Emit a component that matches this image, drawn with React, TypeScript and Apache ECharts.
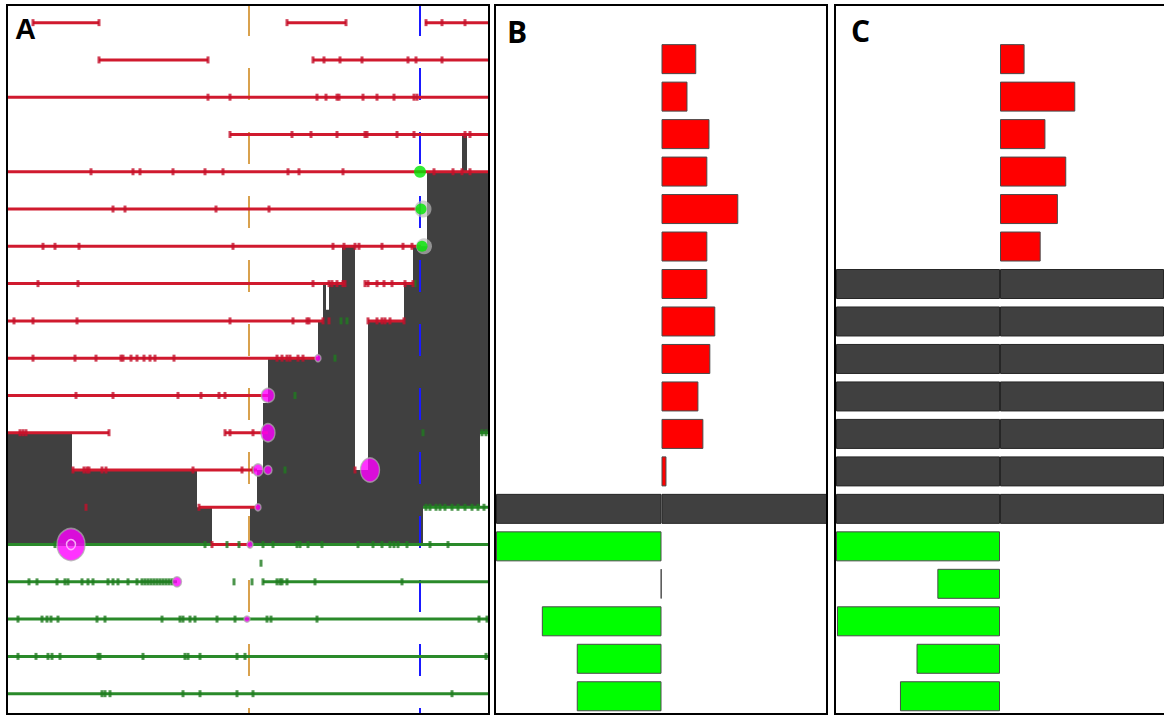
import React, { useEffect, useRef } from "react";
import * as echarts from "echarts";

// ---------- Panel A: per-row tracks (row index 0 = top) ----------
const ROWS = 19;

// [row, start, end]
const gainSegments: number[][] = [
  [0, 33, 99], [0, 287, 346], [0, 425, 488],
  [1, 99, 208], [1, 313, 488],
  [2, 8, 488],
  [3, 230, 488],
  [4, 8, 488],
  [5, 8, 421],
  [6, 8, 421],
  [7, 8, 345], [7, 365, 413],
  [8, 8, 323], [8, 368, 404],
  [9, 8, 318],
  [10, 8, 268],
  [11, 8, 109], [11, 225, 268],
  [12, 72, 257],
  [13, 199, 258],
  [14, 212, 250],
];

const lossSegments: number[][] = [
  [11, 480, 488],
  [13, 423, 488],
  [14, 8, 488],
  [15, 8, 177], [15, 263, 488],
  [16, 8, 488],
  [17, 8, 488],
  [18, 8, 488],
];

const gainTicksByRow: number[][] = [
  [33, 99, 287, 346, 426, 442, 465],
  [99, 208, 313, 324, 340, 362, 408, 416, 442],
  [208, 230, 317, 326, 337, 339, 363, 377, 394, 414, 417],
  [230, 292, 311, 337, 365, 367, 397, 414, 465, 470],
  [91, 133, 140, 173, 205, 223, 288, 299, 343, 434, 453, 462, 470],
  [113, 125, 216, 269],
  [43, 55, 79, 233, 333, 344, 355, 359, 382, 403, 412],
  [38, 78, 313, 329, 332, 337, 343, 345, 365, 368, 377, 384, 392, 405, 413],
  [14, 33, 77, 230, 293, 307, 309, 323, 329, 368, 377, 382, 385, 390, 404],
  [33, 75, 96, 121, 123, 131, 137, 144, 150, 155, 174, 277, 282, 287, 290, 298, 303],
  [76, 113, 178, 201, 219, 225],
  [20, 23, 26, 109, 225, 230, 253],
  [73, 84, 87, 89, 102, 106, 193, 242, 253, 355],
  [86, 199],
  [212],
  [], [], [], [],
];

const lossTicksByRow: number[][] = [
  [], [], [], [], [], [], [],
  [415],
  [341, 347],
  [335],
  [295],
  [423, 482, 486],
  [285],
  [426, 430, 436, 440, 445, 452, 458, 465, 472, 478, 484],
  [55, 205, 227, 239, 263, 273, 297, 300, 308, 322, 358, 373, 382, 390, 394, 398, 407, 430, 448],
  [29, 37, 57, 65, 68, 82, 88, 93, 108, 113, 118, 128, 137, 142, 145, 148, 151, 154, 157, 160, 163, 166, 169, 172, 234, 252, 263, 277, 280, 282, 287, 315, 402],
  [18, 42, 47, 51, 58, 97, 105, 162, 180, 183, 190, 195, 217, 235, 267, 271, 317, 479, 487],
  [18, 36, 48, 52, 60, 98, 100, 143, 185, 188, 200, 237, 245, 486],
  [102, 105, 110, 183, 200, 237, 253, 452],
];

// isolated marks lying between rows: [rowPosition, x]
const strayLossTicks: number[][] = [[14.5, 261]];

// magenta events: [row, x, width, height]
const eventMarks: number[][] = [
  [9, 318, 6, 7],
  [10, 268, 13, 14],
  [11, 268, 14, 18],
  [12, 258, 10, 12],
  [12, 268, 8, 9],
  [12, 370, 19, 24],
  [13, 258, 6, 7],
  [14, 71, 28, 32],
  [14, 250, 6, 7],
  [15, 177, 9, 10],
  [16, 247, 6, 6],
];

// green breakpoints: [row, x, size, haloSize]
const breakpointMarks: number[][] = [
  [4, 420, 12, 0],
  [5, 421, 11, 17],
  [6, 422, 11, 16],
];

// shaded coverage: [start, end, topRow, bottomRow]
const darkColumns: number[][] = [
  [8, 72, 11, 14],
  [72, 197, 12, 14],
  [197, 212, 13, 14],
  [250, 257, 13, 14],
  [257, 263, 12, 14],
  [263, 268, 10.2, 14],
  [268, 318, 9, 14],
  [318, 323, 8, 14],
  [323, 326, 7, 14],
  [326, 329, 7.7, 14],
  [329, 342, 7, 14],
  [342, 355, 6, 14],
  [355, 368, 12, 14],
  [368, 404, 8, 14],
  [404, 413, 7, 14],
  [413, 423, 6, 14],
  [423, 427, 6, 13],
  [427, 462, 4, 13],
  [462, 467, 3, 13],
  [467, 480, 4, 13],
  [480, 488, 4, 11],
];

// reference positions (dashed guides)
const guideOrange = 249;
const guideBlue = 420;

// ---------- Panels B and C: per-row bars ----------
const barRows = Array.from({ length: 18 }, (_, i) => `r${i + 1}`);

const bGain: (number | string)[] = [21, 15.7, 29, 27.7, 46.4, 27.7, 27.7, 32.5, 29.5, 22.3, 25.3, 3, "-", "-", "-", "-", "-", "-"];
const bLoss: (number | string)[] = ["-", "-", "-", "-", "-", "-", "-", "-", "-", "-", "-", "-", "-", -100, -0.4, -72.3, -51.2, -51.2];
const bFull: boolean[] = barRows.map((_, i) => i === 12);

const cGain: (number | string)[] = [15, 45.9, 27.7, 40.4, 35.3, 24.8, "-", "-", "-", "-", "-", "-", "-", "-", "-", "-", "-", "-"];
const cLoss: (number | string)[] = ["-", "-", "-", "-", "-", "-", "-", "-", "-", "-", "-", "-", "-", -100, -38.2, -99.4, -50.9, -61];
const cFull: boolean[] = barRows.map((_, i) => i >= 6 && i <= 12);

const RED_LINE = "#d01a2e";
const GREEN_LINE = "#2a8a2a";
const DARK = "#404040";

const rowY = (r: number) => r + 0.5;

function darkRuns(cols: number[][]) {
  const runs: number[][][] = [];
  cols.forEach((c) => {
    const last = runs[runs.length - 1];
    if (last && last[last.length - 1][1] === c[0]) last.push(c);
    else runs.push([c]);
  });
  return runs;
}

function segmentSeries(segs: number[][], color: string, z: number) {
  return {
    type: "custom",
    xAxisIndex: 0,
    yAxisIndex: 0,
    silent: true,
    z,
    data: segs.map(([r, a, b]) => [a, b, rowY(r)]),
    encode: { x: [0, 1], y: 2 },
    renderItem: (_p: any, api: any) => {
      const p0 = api.coord([api.value(0), api.value(2)]);
      const p1 = api.coord([api.value(1), api.value(2)]);
      return {
        type: "line",
        shape: { x1: p0[0], y1: p0[1], x2: p1[0], y2: p1[1] },
        style: { stroke: color, lineWidth: 3 },
      };
    },
  };
}

function tickSeries(byRow: number[][], extra: number[][], color: string, z: number) {
  const data: number[][] = [];
  byRow.forEach((xs, r) => xs.forEach((x) => data.push([x, rowY(r)])));
  extra.forEach(([r, x]) => data.push([x, rowY(r)]));
  return {
    type: "scatter",
    xAxisIndex: 0,
    yAxisIndex: 0,
    silent: true,
    z,
    symbol: "rect",
    symbolSize: [3, 7],
    itemStyle: { color },
    data,
  };
}

function guideSeries(x: number, color: string) {
  return {
    type: "line",
    xAxisIndex: 0,
    yAxisIndex: 0,
    silent: true,
    z: 2,
    symbol: "none",
    data: [
      [x, 0],
      [x, 19.045],
    ],
    lineStyle: { color, width: 2, type: [32, 32] },
  };
}

function barSeries(idx: number, data: (number | string)[], color: string, border: string) {
  return {
    type: "bar",
    xAxisIndex: idx,
    yAxisIndex: idx,
    silent: true,
    barWidth: 30,
    barGap: "-100%",
    data,
    itemStyle: { color, borderColor: border, borderWidth: 1 },
  };
}

function panelBars(idx: number, gain: (number | string)[], loss: (number | string)[], full: boolean[]) {
  return [
    barSeries(idx, full.map((f) => (f ? 100 : "-")), DARK, "#262626"),
    barSeries(idx, full.map((f) => (f ? -100 : "-")), DARK, "#262626"),
    barSeries(idx, gain, "#ff0000", "#4a4a4a"),
    barSeries(idx, loss, "#00ff00", "#4a4a4a"),
  ];
}

export default function App() {
  const ref = useRef<HTMLDivElement>(null);

  useEffect(() => {
    if (!ref.current) return;
    const chart = echarts.init(ref.current, null, { renderer: "svg" });
    const runs = darkRuns(darkColumns);

    const option: any = {
      animation: false,
      backgroundColor: "#ffffff",
      grid: [
        { left: 8, top: 4, width: 480, height: 710 },
        { left: 496, top: 40.4, width: 331, height: 678.6 },
        { left: 836, top: 40.4, width: 330, height: 678.6 },
      ],
      xAxis: [
        { type: "value", gridIndex: 0, min: 8, max: 488, show: false },
        { type: "value", gridIndex: 1, min: -100, max: 100, show: false },
        { type: "value", gridIndex: 2, min: -100, max: 100, show: false },
      ],
      yAxis: [
        { type: "value", gridIndex: 0, min: 0, max: 19.045, inverse: true, show: false },
        { type: "category", gridIndex: 1, data: barRows, inverse: true, show: false },
        { type: "category", gridIndex: 2, data: barRows, inverse: true, show: false },
      ],
      series: [
        {
          type: "custom",
          xAxisIndex: 0,
          yAxisIndex: 0,
          silent: true,
          z: 1,
          data: runs.map((r) => [r[0][0], rowY(r[0][2])]),
          renderItem: (params: any, api: any) => {
            const run = runs[params.dataIndex];
            const pts: number[][] = [];
            run.forEach(([a, b, top]) => {
              pts.push(api.coord([a, rowY(top)]));
              pts.push(api.coord([b, rowY(top)]));
            });
            for (let k = run.length - 1; k >= 0; k--) {
              const [a, b, , bot] = run[k];
              pts.push(api.coord([b, rowY(bot)]));
              pts.push(api.coord([a, rowY(bot)]));
            }
            return { type: "polygon", shape: { points: pts }, style: { fill: DARK } };
          },
        },
        guideSeries(guideOrange, "#d9a14e"),
        guideSeries(guideBlue, "#1a1aff"),
        segmentSeries(lossSegments, GREEN_LINE, 3),
        segmentSeries(gainSegments, RED_LINE, 4),
        tickSeries(lossTicksByRow, strayLossTicks, "#1f7a1f", 5),
        tickSeries(gainTicksByRow, [], "#c4102a", 6),
        {
          type: "scatter",
          xAxisIndex: 0,
          yAxisIndex: 0,
          silent: true,
          z: 7,
          symbol: "circle",
          data: breakpointMarks
            .filter((m) => m[3] > 0)
            .map(([r, x, , h]) => ({ value: [x + 2, rowY(r)], symbolSize: h })),
          itemStyle: { color: "rgba(185,185,185,0.85)" },
        },
        {
          type: "scatter",
          xAxisIndex: 0,
          yAxisIndex: 0,
          silent: true,
          z: 8,
          symbol: "circle",
          data: breakpointMarks.map(([r, x, s]) => ({ value: [x, rowY(r)], symbolSize: s })),
          itemStyle: { color: "#00e600" },
        },
        {
          type: "scatter",
          xAxisIndex: 0,
          yAxisIndex: 0,
          silent: true,
          z: 8,
          symbol: "circle",
          data: eventMarks.map(([r, x, w, h]) => ({ value: [x, rowY(r)], symbolSize: [w, h] })),
          itemStyle: { color: "#ff00ff", borderColor: "rgba(170,170,170,0.9)", borderWidth: 1.5 },
        },
        {
          type: "scatter",
          xAxisIndex: 0,
          yAxisIndex: 0,
          silent: true,
          z: 9,
          symbol: "circle",
          data: [{ value: [eventMarks[7][1], rowY(eventMarks[7][0])], symbolSize: [9, 10] }],
          itemStyle: { color: "rgba(0,0,0,0)", borderColor: "#ffd0ff", borderWidth: 1.5 },
        },
        ...panelBars(1, bGain, bLoss, bFull),
        ...panelBars(2, cGain, cLoss, cFull),
      ],
      graphic: [
        { type: "rect", z: 100, silent: true, shape: { x: 7, y: 5, width: 482, height: 709 }, style: { fill: "none", stroke: "#000", lineWidth: 2 } },
        { type: "rect", z: 100, silent: true, shape: { x: 495, y: 5, width: 332, height: 709 }, style: { fill: "none", stroke: "#000", lineWidth: 2 } },
        { type: "rect", z: 100, silent: true, shape: { x: 835, y: 5, width: 340, height: 709 }, style: { fill: "none", stroke: "#000", lineWidth: 2 } },
        { type: "text", z: 101, silent: true, x: 15, y: 28.5, style: { text: "A", fill: "#000", font: 'bold 29px "Liberation Sans", Arial, sans-serif', verticalAlign: "middle" } },
        { type: "text", z: 101, silent: true, x: 507, y: 31, style: { text: "B", fill: "#000", font: 'bold 30px "Open Sans", "Liberation Sans", sans-serif', verticalAlign: "middle" } },
        { type: "text", z: 101, silent: true, x: 851, y: 30.5, style: { text: "C", fill: "#000", font: 'bold 30px "Open Sans", "Liberation Sans", sans-serif', verticalAlign: "middle" } },
      ],
    };

    chart.setOption(option);
    return () => chart.dispose();
  }, []);

  return (
    <div
      ref={ref}
      style={{ position: "absolute", left: 0, top: 0, width: 1164, height: 715, overflow: "hidden" }}
    />
  );
}
